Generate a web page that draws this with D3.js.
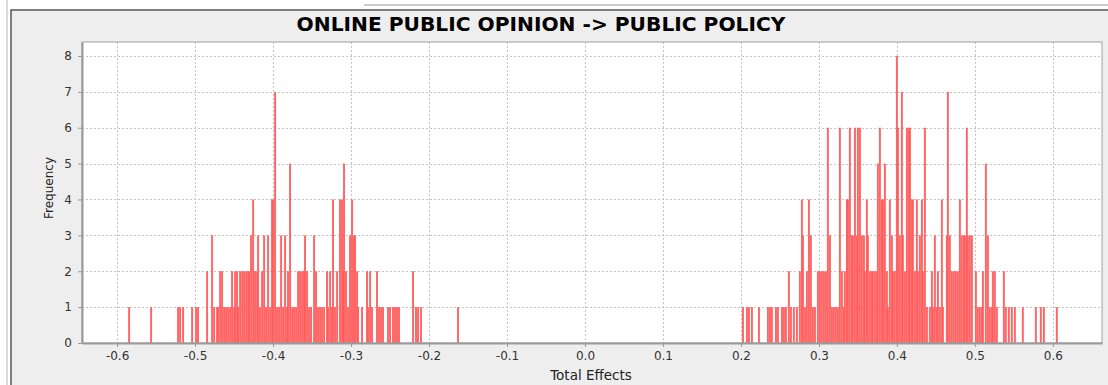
<!DOCTYPE html>
<html>
<head>
<meta charset="utf-8">
<script src="https://cdn.jsdelivr.net/npm/d3@7"></script>
<style>
  body { margin: 0; background: #fff; }
  svg { display: block; }
</style>
</head>
<body>
<svg width="1108" height="385"></svg>
<script>
var width = 1108;
var height = 385;

// bootstrap histogram: bin position (total effect) and frequency
var leftEffects = [-0.5846, -0.5564, -0.5218, -0.5192, -0.5154, -0.5038, -0.4987, -0.4962, -0.4846, -0.4782,
  -0.4756, -0.4718, -0.4705, -0.4679, -0.4654, -0.4628, -0.4603, -0.4577, -0.4551, -0.4526,
  -0.4500, -0.4487, -0.4462, -0.4449, -0.4423, -0.4397, -0.4372, -0.4346, -0.4321, -0.4308,
  -0.4282, -0.4256, -0.4231, -0.4205, -0.4192, -0.4167, -0.4141, -0.4115, -0.4090, -0.4064,
  -0.4038, -0.4013, -0.4000, -0.3974, -0.3949, -0.3923, -0.3897, -0.3872, -0.3846, -0.3821,
  -0.3808, -0.3782, -0.3756, -0.3731, -0.3705, -0.3679, -0.3654, -0.3628, -0.3603, -0.3590,
  -0.3564, -0.3538, -0.3513, -0.3474, -0.3449, -0.3423, -0.3397, -0.3372, -0.3346, -0.3308,
  -0.3295, -0.3269, -0.3244, -0.3231, -0.3205, -0.3179, -0.3141, -0.3115, -0.3103, -0.3090,
  -0.3064, -0.3038, -0.3013, -0.2987, -0.2962, -0.2949, -0.2923, -0.2910, -0.2859, -0.2795,
  -0.2782, -0.2756, -0.2731, -0.2667, -0.2641, -0.2615, -0.2590, -0.2526, -0.2500, -0.2462,
  -0.2436, -0.2410, -0.2385, -0.2205, -0.2167, -0.2141, -0.2103, -0.1628];
var leftFreq = [1, 1, 1, 1, 1, 1, 1, 1, 2, 3,
  1, 1, 1, 2, 2, 1, 1, 1, 1, 2,
  1, 2, 2, 1, 2, 2, 2, 2, 2, 2,
  3, 4, 2, 2, 3, 1, 2, 3, 1, 3,
  1, 4, 4, 7, 1, 1, 3, 1, 3, 1,
  2, 5, 1, 1, 1, 2, 2, 2, 2, 3,
  2, 1, 1, 3, 2, 1, 1, 1, 1, 2,
  1, 2, 1, 4, 1, 2, 4, 4, 2, 5,
  2, 1, 3, 4, 3, 3, 2, 1, 1, 2,
  1, 2, 1, 2, 1, 1, 1, 1, 1, 1,
  1, 1, 1, 2, 1, 1, 1, 1];

var rightEffects = [0.2026, 0.2077, 0.2103, 0.2141, 0.2231, 0.2346, 0.2372, 0.2397, 0.2449, 0.2474,
  0.2526, 0.2551, 0.2577, 0.2615, 0.2641, 0.2679, 0.2718, 0.2756, 0.2782, 0.2795,
  0.2821, 0.2846, 0.2872, 0.2897, 0.2923, 0.2949, 0.2987, 0.3013, 0.3038, 0.3064,
  0.3090, 0.3115, 0.3141, 0.3167, 0.3192, 0.3218, 0.3244, 0.3269, 0.3295, 0.3321,
  0.3333, 0.3359, 0.3372, 0.3397, 0.3423, 0.3436, 0.3462, 0.3487, 0.3500, 0.3526,
  0.3551, 0.3577, 0.3590, 0.3615, 0.3628, 0.3654, 0.3679, 0.3692, 0.3718, 0.3744,
  0.3756, 0.3782, 0.3808, 0.3821, 0.3846, 0.3872, 0.3885, 0.3910, 0.3936, 0.3949,
  0.3974, 0.4000, 0.4013, 0.4038, 0.4064, 0.4077, 0.4103, 0.4128, 0.4154, 0.4167,
  0.4192, 0.4205, 0.4231, 0.4256, 0.4269, 0.4295, 0.4321, 0.4333, 0.4359, 0.4385,
  0.4423, 0.4449, 0.4462, 0.4487, 0.4513, 0.4526, 0.4551, 0.4577, 0.4590, 0.4641,
  0.4654, 0.4679, 0.4705, 0.4731, 0.4756, 0.4782, 0.4808, 0.4833, 0.4859, 0.4872,
  0.4897, 0.4910, 0.4936, 0.4962, 0.5013, 0.5038, 0.5064, 0.5090, 0.5103, 0.5141,
  0.5167, 0.5192, 0.5218, 0.5231, 0.5256, 0.5282, 0.5372, 0.5397, 0.5436, 0.5474,
  0.5513, 0.5615, 0.5782, 0.5846, 0.5885, 0.6051];
var rightFreq = [1, 1, 1, 1, 1, 1, 1, 1, 1, 1,
  1, 1, 1, 2, 1, 1, 1, 2, 4, 3,
  1, 2, 4, 3, 1, 1, 2, 2, 2, 2,
  2, 6, 3, 1, 1, 1, 1, 6, 2, 1,
  2, 4, 4, 6, 3, 3, 6, 3, 6, 6,
  3, 3, 2, 4, 3, 2, 2, 2, 2, 2,
  5, 6, 4, 4, 5, 2, 1, 4, 3, 2,
  2, 8, 6, 3, 7, 3, 2, 6, 6, 6,
  4, 4, 2, 4, 2, 3, 4, 2, 6, 1,
  1, 2, 1, 3, 1, 2, 1, 4, 1, 3,
  7, 3, 2, 2, 2, 2, 4, 3, 3, 3,
  6, 3, 3, 3, 2, 1, 1, 1, 2, 5,
  3, 1, 1, 2, 2, 1, 2, 1, 1, 1,
  1, 1, 1, 1, 1, 1];

var binWidth = 0.0025;
var xTicks = [-0.6, -0.5, -0.4, -0.3, -0.2, -0.1, 0.0, 0.1, 0.2, 0.3, 0.4, 0.5, 0.6];
var yTicks = [0, 1, 2, 3, 4, 5, 6, 7, 8];
var chartTitle = 'ONLINE PUBLIC OPINION -> PUBLIC POLICY';

var bins = leftEffects.map(function(e, i) { return {effect: e, freq: leftFreq[i]}; })
  .concat(rightEffects.map(function(e, i) { return {effect: e, freq: rightFreq[i]}; }));

var plotLeft = 82, plotRight = 1102, plotTop = 42, plotBottom = 343;

var xScale = d3.scaleLinear()
  .domain([-0.645, 0.663])
  .range([plotLeft, plotRight]);

var yScale = d3.scaleLinear()
  .domain([0, 8.39])
  .range([plotBottom, plotTop]);

var svg = d3.select('svg');
var font = "'DejaVu Sans', Verdana, sans-serif";

// window frame
svg.append('rect').attr('x', 0).attr('y', 0).attr('width', width).attr('height', height).attr('fill', '#fff');
svg.append('rect').attr('x', 11).attr('y', 10).attr('width', width).attr('height', height)
  .attr('fill', '#eeeeee').attr('stroke', '#555').attr('stroke-width', 1.5);
svg.append('line').attr('x1', 7).attr('x2', 7).attr('y1', 0).attr('y2', height)
  .attr('stroke', '#b8b8b8').attr('stroke-width', 1);
svg.append('line').attr('x1', 364).attr('x2', width).attr('y1', 5).attr('y2', 5)
  .attr('stroke', '#999').attr('stroke-width', 1);

// plot area
svg.append('rect')
  .attr('x', plotLeft).attr('y', plotTop)
  .attr('width', plotRight - plotLeft).attr('height', plotBottom - plotTop)
  .attr('fill', '#fff');

var grid = svg.append('g').attr('stroke', '#c4c4c4').attr('stroke-dasharray', '2,2').attr('stroke-width', 1);
grid.selectAll('.gx').data(xTicks).enter().append('line')
  .attr('x1', function(d) { return Math.round(xScale(d)) + 0.5; })
  .attr('x2', function(d) { return Math.round(xScale(d)) + 0.5; })
  .attr('y1', plotTop).attr('y2', plotBottom);
grid.selectAll('.gy').data(yTicks.slice(1)).enter().append('line')
  .attr('y1', function(d) { return Math.round(yScale(d)) + 0.5; })
  .attr('y2', function(d) { return Math.round(yScale(d)) + 0.5; })
  .attr('x1', plotLeft).attr('x2', plotRight);

// bars
var barW = xScale(binWidth) - xScale(0);
svg.append('g').selectAll('rect').data(bins).enter()
  .append('rect')
  .attr('x', function(d) { return xScale(d.effect) - barW / 2; })
  .attr('y', function(d) { return yScale(d.freq); })
  .attr('width', barW)
  .attr('height', function(d) { return yScale(0) - yScale(d.freq); })
  .attr('fill', '#ff5a5a')
  .attr('fill-opacity', 0.92);

// plot border
svg.append('rect')
  .attr('x', plotLeft).attr('y', plotTop)
  .attr('width', plotRight - plotLeft).attr('height', plotBottom - plotTop)
  .attr('fill', 'none').attr('stroke', '#a0a0a0').attr('stroke-width', 1);

// axes
var axisBottom = d3.axisBottom(xScale).tickValues(xTicks)
  .tickFormat(function(d) { return d.toFixed(1).replace('\u2212', '-'); })
  .tickSize(4).tickSizeOuter(0).tickPadding(4);
var gx = svg.append('g').attr('transform', 'translate(0,' + plotBottom + ')').call(axisBottom);
gx.select('.domain').attr('stroke', '#999').attr('stroke-width', 2);
gx.selectAll('.tick line').attr('stroke', '#999');
gx.selectAll('text').attr('font-family', font).attr('font-size', '12px').attr('fill', '#333');

var axisLeft = d3.axisLeft(yScale).tickValues(yTicks)
  .tickFormat(function(d) { return String(d); })
  .tickSize(4).tickSizeOuter(0).tickPadding(6);
var gy = svg.append('g').attr('transform', 'translate(' + plotLeft + ',0)').call(axisLeft);
gy.select('.domain').attr('stroke', '#999').attr('stroke-width', 2);
gy.selectAll('.tick line').attr('stroke', '#999');
gy.selectAll('text').attr('font-family', font).attr('font-size', '12px').attr('fill', '#333');

// titles
svg.append('text')
  .attr('x', 541).attr('y', 31)
  .attr('text-anchor', 'middle')
  .attr('font-family', font).attr('font-weight', 'bold').attr('font-size', '20.2px')
  .attr('fill', '#000')
  .text(chartTitle);

svg.append('text')
  .attr('x', 591).attr('y', 380)
  .attr('text-anchor', 'middle')
  .attr('font-family', font).attr('font-size', '13.5px')
  .attr('fill', '#222')
  .text('Total Effects');

svg.append('text')
  .attr('transform', 'translate(53,188) rotate(-90)')
  .attr('text-anchor', 'middle')
  .attr('font-family', font).attr('font-size', '12px')
  .attr('fill', '#222')
  .text('Frequency');
</script>
</body>
</html>
